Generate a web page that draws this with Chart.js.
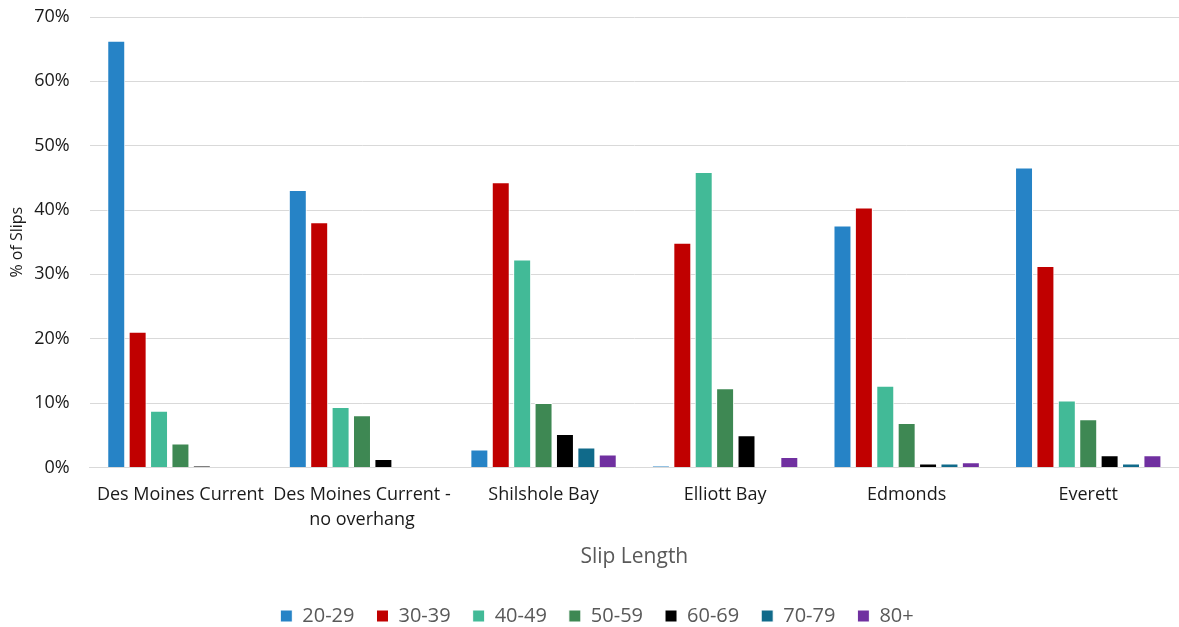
<!DOCTYPE html>
<html>
<head>
<meta charset="utf-8">
<script src="https://cdn.jsdelivr.net/npm/chart.js@4"></script>
<style>
  html, body { margin: 0; padding: 0; background: #fff; overflow: hidden; }
  #wrap { width: 1179px; height: 627px; }
</style>
</head>
<body>
<div id="wrap"><canvas id="chart"></canvas></div>
<script>
const categories = [
    'Des Moines Current',
    ['Des Moines Current -', 'no overhang'],
    'Shilshole Bay',
    'Elliott Bay',
    'Edmonds',
    'Everett',
];
const seriesNames = ['20-29', '30-39', '40-49', '50-59', '60-69', '70-79', '80+'];
const seriesColors = ['#2683c6', '#c00000', '#42ba97', '#3e8853', '#000000', '#106a8a', '#7030a0'];
const s20 = [66.3, 43.1, 2.8, 0.2, 37.6, 46.6];
const s30 = [21.1, 38.1, 44.3, 34.9, 40.4, 31.3];
const s40 = [8.8, 9.4, 32.3, 45.9, 12.7, 10.4];
const s50 = [3.7, 8.1, 10.0, 12.3, 6.9, 7.5];
const s60 = [0.2, 1.3, 5.2, 5.0, 0.6, 1.9];
const s70 = [0, 0, 3.1, 0, 0.6, 0.6];
const s80 = [0, 0, 2.0, 1.6, 0.8, 1.9];
const seriesValues = [s20, s30, s40, s50, s60, s70, s80];

const font = "'Open Sans', 'Liberation Sans', sans-serif";

new Chart(document.getElementById('chart'), {
    type: 'bar',
    data: {
        labels: categories,
        datasets: seriesNames.map((name, i) => ({
            label: name,
            data: seriesValues[i],
            backgroundColor: seriesColors[i],
            borderColor: '#ffffff',
            borderWidth: 1,
            categoryPercentage: 0.825,
            barPercentage: 0.84,
        })),
    },
    options: {
        responsive: true,
        maintainAspectRatio: false,
        animation: false,
        layout: { padding: { left: 8, right: -7, top: 17, bottom: -9 } },
        plugins: {
            legend: {
                position: 'bottom',
                labels: {
                    color: '#595959',
                    boxWidth: 12,
                    boxHeight: 12,
                    padding: 22,
                    font: { family: font, size: 20 },
                },
            },
            tooltip: { enabled: false },
        },
        scales: {
            x: {
                grid: { display: false },
                border: { color: '#d9d9d9', width: 1 },
                ticks: {
                    color: '#1a1a1a',
                    padding: 7,
                    maxRotation: 0,
                    autoSkip: false,
                    font: { family: font, size: 18, lineHeight: 1.4 },
                },
                title: {
                    display: true,
                    text: 'Slip Length',
                    color: '#595959',
                    padding: { top: 5, bottom: 14 },
                    font: { family: font, size: 21 },
                },
            },
            y: {
                min: 0,
                max: 70,
                grid: {
                    color: '#d9d9d9',
                    lineWidth: 1,
                    drawTicks: true,
                    tickLength: 17,
                    tickColor: 'rgba(0,0,0,0)',
                },
                border: { display: false },
                ticks: {
                    stepSize: 10,
                    color: '#1a1a1a',
                    padding: 3,
                    font: { family: font, size: 18 },
                    callback: v => v + '%',
                },
                title: {
                    display: true,
                    text: '% of Slips',
                    color: '#1a1a1a',
                    padding: { top: 0, bottom: 4 },
                    font: { family: font, size: 16 },
                },
            },
        },
    },
});
</script>
</body>
</html>
